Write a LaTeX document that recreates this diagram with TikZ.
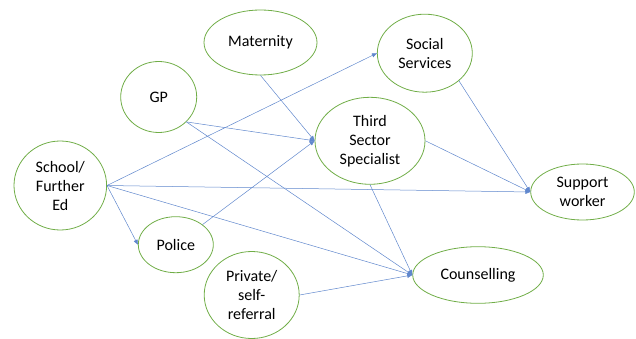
\documentclass[tikz,border=0pt]{standalone}
\usepackage{fontspec}
\setmainfont{Carlito}
\usetikzlibrary{shapes.geometric,arrows.meta}
\definecolor{officegreen}{HTML}{70AD47}
\definecolor{officeblue}{HTML}{4472C4}
\begin{document}
\begin{tikzpicture}[x=1pt,y=-1pt,
  agency/.style={ellipse,draw=officegreen,line width=0.8pt,inner sep=0pt,align=center,
    font=\fontsize{16}{19}\selectfont},
  referral/.style={draw=officeblue!85,line width=0.5pt,-{Triangle[length=5pt,width=4pt]}}]

\useasboundingbox (0,0) rectangle (636,339);

\node[agency,minimum width=92.6pt,minimum height=89pt] (school) at (60.3,185.5) {School/\\Further\\Ed};
\node[agency,minimum width=76pt,minimum height=71pt] (gp) at (158.7,97) {GP};
\node[agency,minimum width=113pt,minimum height=65pt] (maternity) at (260.5,42.5) {Maternity};
\node[agency,minimum width=75pt,minimum height=56pt] (police) at (175.8,244.7) {Police};
\node[agency,minimum width=95pt,minimum height=87pt] (private) at (251.7,295) {Private/\\self-\\referral};
\node[agency,minimum width=95pt,minimum height=78pt] (social) at (424.8,53.2) {Social\\Services};
\node[agency,minimum width=110pt,minimum height=87pt] (third) at (370,140.8) {Third\\Sector\\Specialist};
\node[agency,minimum width=103.6pt,minimum height=56pt] (support) at (582.5,192) {Support\\worker};
\node[agency,minimum width=130.6pt,minimum height=56.6pt] (counselling) at (478,275) {Counselling};

% referrals from school
\draw[referral] (school.east) -- (social.west);
\draw[referral] (school.east) -- (police.west);
\draw[referral] (school.east) -- (support.west);
\draw[referral] (school.east) -- (counselling.west);

% into third sector
\draw[referral] (gp.-42) -- (third.west);
\draw[referral] (maternity.south) -- (third.west);
\draw[referral] (police.37) -- (third.west);

\draw[referral] (gp.-42) -- (counselling.west);
\draw[referral] (private.east) -- (counselling.west);
\draw[referral] (third.south) -- (counselling.west);

\draw[referral] (social.-39) -- (support.west);
\draw[referral] (third.east) -- (support.west);

\end{tikzpicture}
\end{document}
